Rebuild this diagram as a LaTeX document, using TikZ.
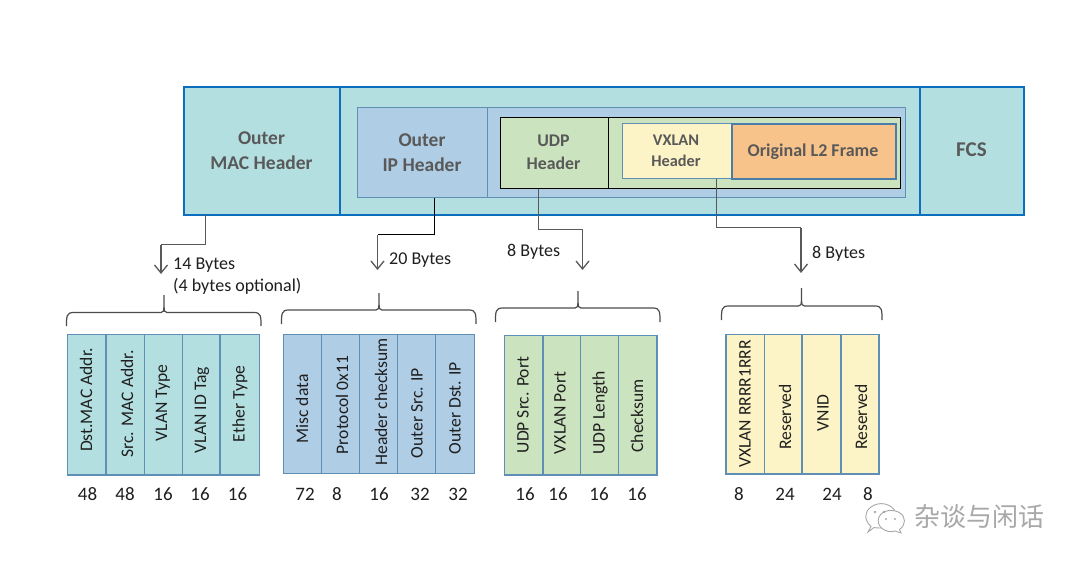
\documentclass[tikz,border=0pt]{standalone}
\usepackage{fontspec}
\setmainfont{Carlito}
\newfontfamily\cjkfont{Noto Sans CJK SC}
\usetikzlibrary{arrows.meta,calc}
\definecolor{tealfill}{HTML}{B4DFE0}
\definecolor{bluefill}{HTML}{AFCDE5}
\definecolor{greenfill}{HTML}{CBE3BF}
\definecolor{yellowfill}{HTML}{FCF3C6}
\definecolor{orangefill}{HTML}{F8C38A}
\definecolor{outerline}{HTML}{0B6FBE}
\definecolor{innerline}{HTML}{5F8FB5}
\definecolor{l2line}{HTML}{4A7DA8}
\definecolor{headtext}{HTML}{595959}
\definecolor{bodytext}{HTML}{1F1F1F}
\definecolor{connline}{HTML}{595959}
\definecolor{wmark}{HTML}{A8A8A8}
\tikzset{
  x=1pt,y=-1pt,
  box/.style={draw,inner sep=0pt,outer sep=0pt},
  head/.style={text=headtext,font=\fontsize{#1}{\dimexpr#1pt*129/100\relax}\selectfont\bfseries,align=center,inner sep=0pt},
  vlabel/.style={rotate=90,text=bodytext,font=\fontsize{17.6}{20}\selectfont,inner sep=0pt},
  size/.style={text=bodytext,font=\fontsize{19}{21}\selectfont,inner sep=0pt},
  note/.style={text=bodytext,font=\fontsize{18}{22}\selectfont,inner sep=0pt,anchor=west,align=left},
  conn/.style={draw=connline,line width=1.3pt},
  connend/.style={conn,-{Straight Barb[length=8pt,width=13pt,line width=1.3pt]}},
  bracket/.style={draw=black!70,line width=1.2pt},
}
% \cell{name}{x1}{x2}{y1}{y2}{fill}{stroke}{line width}
\newcommand{\cell}[8]{%
  \pgfmathsetmacro{\cw}{#3-#2}\pgfmathsetmacro{\ch}{#5-#4}%
  \pgfmathsetmacro{\cx}{(#2+#3)/2}\pgfmathsetmacro{\cy}{(#4+#5)/2}%
  \node[box,fill=#6,draw=#7,line width=#8,minimum width=\cw pt,minimum height=\ch pt] (#1) at (\cx,\cy) {};}
% \bracketshape{left}{right}{tip x}{top y}{bottom y}{tip y}
\newcommand{\bracketshape}[6]{%
  \draw[bracket] (#1,#5) .. controls (#1,#4+4) and (#1,#4) .. (#1+7,#4)
    -- (#3-3,#4) .. controls (#3-0.5,#4) and (#3,#4-2) .. (#3,#4-5) -- (#3,#6);
  \draw[bracket] (#2,#5) .. controls (#2,#4+4) and (#2,#4) .. (#2-7,#4)
    -- (#3+3,#4) .. controls (#3+0.5,#4) and (#3,#4-2) .. (#3,#4-5);}
\begin{document}
\begin{tikzpicture}
\useasboundingbox (0,0) rectangle (1080,565);
\fill[white] (0,0) rectangle (1080,565);

% top frame
\cell{macbox}{183.5}{340}{86.5}{214.5}{tealfill}{outerline}{2pt}
\cell{payload}{340}{920}{86.5}{214.5}{tealfill}{outerline}{2pt}
\cell{fcsbox}{920}{1024}{86.5}{214.5}{tealfill}{outerline}{2pt}
\node[head=19.5] (mactxt) at (261.5,150.5) {Outer\\MAC Header};
\node[head=21] (fcstxt) at (971.5,150) {FCS};

\cell{ipbox}{357.5}{487.5}{107.5}{197.5}{bluefill}{innerline}{1.2pt}
\cell{iprest}{487.5}{905.5}{107.5}{197.5}{bluefill}{innerline}{1.2pt}
\node[head=19.5] (iptxt) at (422,152.5) {Outer\\IP Header};

\cell{udpbox}{500.5}{608.5}{117.5}{188.5}{greenfill}{black}{1.2pt}
\cell{udprest}{608.5}{900.5}{117.5}{188.5}{greenfill}{black}{1.2pt}
\node[head=17.8] (udptxt) at (553.5,152) {UDP\\Header};

\cell{vxbox}{622.5}{731.5}{123.5}{178.5}{yellowfill}{innerline}{1.2pt}
\node[head=16.3] (vxtxt) at (676,150.5) {VXLAN\\Header};
\cell{l2box}{731.5}{895.5}{123.5}{179}{orangefill}{l2line}{2pt}
\node[head=18] (l2txt) at (813,151.5) {Original L2 Frame};

% connectors
\coordinate (m1) at (205.5,244.5);
\coordinate (m2) at (161,244.5);
\coordinate (m3) at (161,274);
\draw[conn] (macbox.south -| m1) -- (m1) -- (m2);
\draw[connend] (m2) -- (m3);

\coordinate (i1) at (434.5,234.5);
\coordinate (i2) at (377.5,234.5);
\coordinate (i3) at (377.5,270);
\draw[draw=black,line width=1.2pt] (ipbox.south -| i1) -- (i1) -- (i2);
\draw[connend] (i2) -- (i3);

\coordinate (u1) at (538.5,229.5);
\coordinate (u2) at (582.5,229.5);
\coordinate (u3) at (582.5,270);
\draw[conn] (udpbox.south -| u1) -- (u1) -- (u2);
\draw[connend] (u2) -- (u3);

\coordinate (v1) at (716.5,227.5);
\coordinate (v2) at (801,227.5);
\coordinate (v3) at (801,273);
\draw[conn,line width=1pt] (vxbox.south -| v1) -- (v1) -- (v2);
\draw[connend] (v2) -- (v3);

\node[note] (n14) at (173,276.5) {14 Bytes\\(4 bytes optional)};
\node[note] (n20) at (389,260.5) {20 Bytes};
\node[note] (n8a) at (507,252) {8 Bytes};
\node[note] (n8b) at (812,254) {8 Bytes};

% brackets
\bracketshape{66.5}{261}{164}{312.5}{326}{295}
\bracketshape{281.5}{476}{379}{310}{324}{293}
\bracketshape{495.5}{660}{578}{308}{322}{291}
\bracketshape{721.5}{882}{801.5}{306}{320}{288}

% table 1
\cell{a1}{67.5}{106}{334.5}{475}{tealfill}{innerline}{1.1pt}
\cell{a2}{106}{144.5}{334.5}{475}{tealfill}{innerline}{1.1pt}
\cell{a3}{144.5}{182.5}{334.5}{475}{tealfill}{innerline}{1.1pt}
\cell{a4}{182.5}{220}{334.5}{475}{tealfill}{innerline}{1.1pt}
\cell{a5}{220}{259.5}{334.5}{475}{tealfill}{innerline}{1.1pt}
\node[vlabel] (ta1) at (86,400) {Dst.MAC Addr.};
\node[vlabel] (ta2) at (127,404) {Src. MAC Addr.};
\node[vlabel] (ta3) at (163,403) {VLAN Type};
\node[vlabel] (ta4) at (202,410) {VLAN ID Tag};
\node[vlabel] (ta5) at (240,404) {Ether Type};
\node[size] (sa1) at (87.5,494) {48};
\node[size] (sa2) at (125,494) {48};
\node[size] (sa3) at (163,494) {16};
\node[size] (sa4) at (200,494) {16};
\node[size] (sa5) at (237.5,494) {16};

% table 2
\cell{b1}{283.5}{321.5}{334.5}{473.5}{bluefill}{innerline}{1.1pt}
\cell{b2}{321.5}{359.5}{334.5}{473.5}{bluefill}{innerline}{1.1pt}
\cell{b3}{359.5}{397.5}{334.5}{473.5}{bluefill}{innerline}{1.1pt}
\cell{b4}{397.5}{435.5}{334.5}{473.5}{bluefill}{innerline}{1.1pt}
\cell{b5}{435.5}{474.5}{334.5}{473.5}{bluefill}{innerline}{1.1pt}
\node[vlabel] (tb1) at (302,409) {Misc data};
\node[vlabel] (tb2) at (342,405) {Protocol 0x11};
\node[vlabel] (tb3) at (381,402) {Header checksum};
\node[vlabel] (tb4) at (417,413) {Outer Src. IP};
\node[vlabel] (tb5) at (455,408) {Outer Dst. IP};
\node[size] (sb1) at (305,494) {72};
\node[size] (sb2) at (337,494) {8};
\node[size] (sb3) at (379,494) {16};
\node[size] (sb4) at (420,494) {32};
\node[size] (sb5) at (458,494) {32};

% table 3
\cell{c1}{504.5}{543}{335.5}{475}{greenfill}{innerline}{1.1pt}
\cell{c2}{543}{580.5}{335.5}{475}{greenfill}{innerline}{1.1pt}
\cell{c3}{580.5}{618.5}{335.5}{475}{greenfill}{innerline}{1.1pt}
\cell{c4}{618.5}{657}{335.5}{475}{greenfill}{innerline}{1.1pt}
\node[vlabel] (tc1) at (523,405) {UDP Src. Port};
\node[vlabel] (tc2) at (560,413) {VXLAN Port};
\node[vlabel] (tc3) at (600,413) {UDP Length};
\node[vlabel] (tc4) at (637,416) {Checksum};
\node[size] (sc1) at (525,494) {16};
\node[size] (sc2) at (558,494) {16};
\node[size] (sc3) at (599,494) {16};
\node[size] (sc4) at (637,494) {16};

% table 4
\cell{d1}{726}{764.5}{334.5}{474}{yellowfill}{innerline}{1.1pt}
\cell{d2}{764.5}{802}{334.5}{474}{yellowfill}{innerline}{1.1pt}
\cell{d3}{802}{841}{334.5}{474}{yellowfill}{innerline}{1.1pt}
\cell{d4}{841}{879}{334.5}{474}{yellowfill}{innerline}{1.1pt}
\node[vlabel] (td1) at (745,404) {VXLAN RRRR1RRR};
\node[vlabel] (td2) at (785,417) {Reserved};
\node[vlabel] (td3) at (823,413) {VNID};
\node[vlabel] (td4) at (861,417) {Reserved};
\node[size] (sd1) at (739,494) {8};
\node[size] (sd2) at (785,494) {24};
\node[size] (sd3) at (832,494) {24};
\node[size] (sd4) at (868,494) {8};

% watermark
\draw[wmark,line width=0.9pt,fill=white] (868,532) -- (871,526.5) .. controls (864,520) and (864,512) .. (871,507)
  .. controls (879,501) and (892,503) .. (896,513) -- (884,528) .. controls (880,528) and (876,528) .. (874,527.5) -- cycle;
\draw[wmark,line width=0.9pt,fill=white] (901,533) -- (899.5,529.5) .. controls (906,525) and (906,517) .. (900,513)
  .. controls (893,508.5) and (882,510) .. (879,517) .. controls (875,526) and (886,534) .. (895,531) -- cycle;
\fill[wmark] (875,512) circle (1.3) (884,512) circle (1.3) (886,519) circle (1.1) (895,519) circle (1.1);
\node[text=wmark,font=\cjkfont\fontsize{26}{28}\selectfont,inner sep=0pt] (wm) at (979.5,517) {杂谈与闲话};
\end{tikzpicture}
\end{document}
